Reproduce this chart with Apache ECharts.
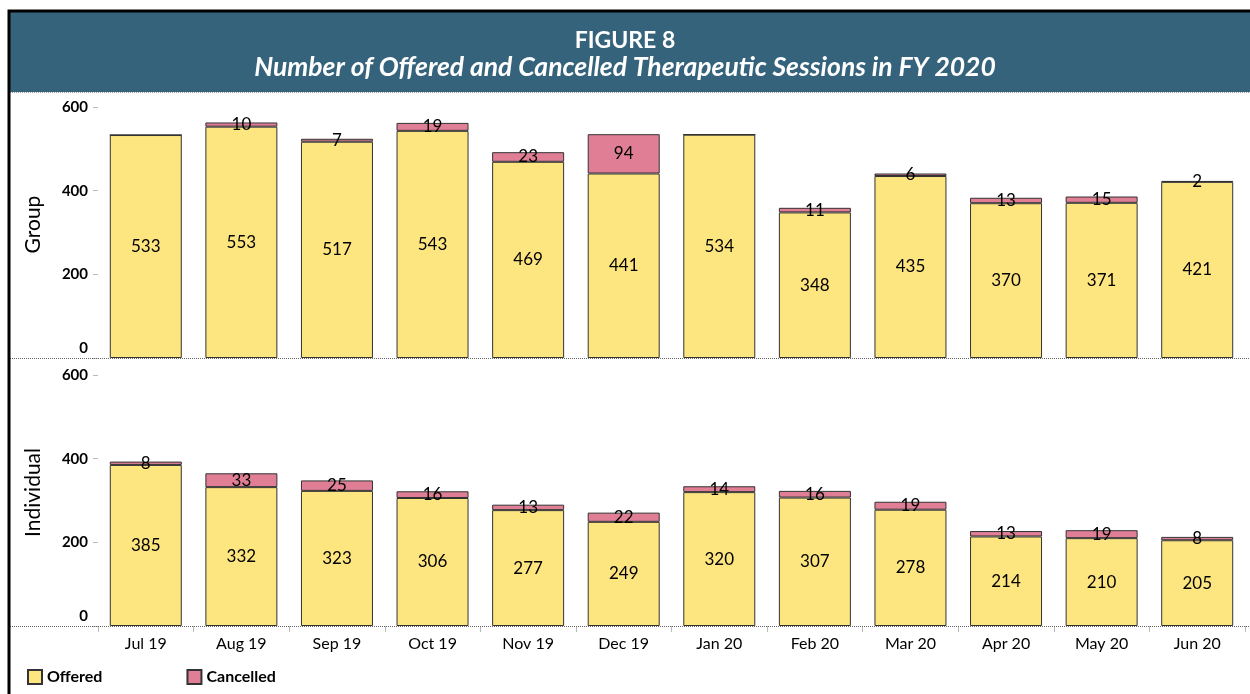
<!DOCTYPE html>
<html>
<head>
<meta charset="utf-8">
<script src="https://cdn.jsdelivr.net/npm/echarts@6/dist/echarts.min.js"></script>
<style>
    html, body { margin: 0; padding: 0; background: #fff; }
    #main { width: 1250px; height: 694px; }
</style>
</head>
<body>
<div id="main"></div>
<script>
// months
var months = ['Jul 19', 'Aug 19', 'Sep 19', 'Oct 19', 'Nov 19', 'Dec 19', 'Jan 20', 'Feb 20', 'Mar 20', 'Apr 20', 'May 20', 'Jun 20']
// group sessions
var groupOffered = [533, 553, 517, 543, 469, 441, 534, 348, 435, 370, 371, 421]
var groupCancelled = [0, 10, 7, 19, 23, 94, 0, 11, 6, 13, 15, 2]
// individual sessions
var indivOffered = [385, 332, 323, 306, 277, 249, 320, 307, 278, 214, 210, 205]
var indivCancelled = [8, 33, 25, 16, 13, 22, 14, 16, 19, 13, 19, 8]
var yTicks = [0, 200, 400, 600]

;(function () {
    var myChart = echarts.init(document.getElementById('main'))

    var font = 'Lato, "Open Sans", sans-serif'
    var yellow = '#fde580'
    var pink = '#e07e95'

    function yAxis(idx, name) {
        return {
            gridIndex: idx,
            type: 'value',
            min: yTicks[0],
            max: yTicks[yTicks.length - 1],
            interval: 200,
            name: name,
            nameLocation: 'middle',
            nameGap: 54,
            nameTextStyle: { color: '#000', fontSize: 21, fontFamily: font, padding: [0, 0, 0, 16] },
            axisLine: { show: false },
            axisTick: { show: true, length: 5, lineStyle: { color: '#bbb' } },
            splitLine: { show: false },
            axisLabel: {
                color: '#000', fontSize: 15, fontWeight: 'bold', fontFamily: font, margin: 10,
                // the 0 label sits a little above the baseline
                formatter: function (v) { return v === 0 ? '{z|0}' : v },
                rich: { z: { fontSize: 15, fontWeight: 'bold', fontFamily: font, color: '#000', padding: [0, 0, 20, 0] } }
            }
        }
    }

    function bar(name, axis, stack, data, color) {
        return {
            name: name,
            type: 'bar',
            xAxisIndex: axis,
            yAxisIndex: axis,
            stack: stack,
            barWidth: 72,
            data: data,
            itemStyle: { color: color, borderColor: '#333', borderWidth: 1 },
            label: {
                show: true,
                position: 'inside',
                color: '#000',
                fontSize: 17,
                fontFamily: font,
                formatter: function (p) { return p.value ? p.value : '' }
            }
        }
    }

    var option = {
        animation: false,
        backgroundColor: '#fff',
        title: {
            text: 'FIGURE 8',
            subtext: 'Number of Offered and Cancelled Therapeutic Sessions in FY 2020',
            left: 'center',
            top: 24,
            itemGap: 2,
            textStyle: { color: '#fff', fontSize: 23, fontWeight: 'bold', fontFamily: font },
            subtextStyle: { color: '#fff', fontSize: 26.5, fontStyle: 'italic', fontWeight: 'bold', fontFamily: font }
        },
        legend: {
            left: 22,
            top: 664,
            itemWidth: 14,
            itemHeight: 14,
            itemGap: 84,
            icon: 'rect',
            textStyle: { color: '#000', fontSize: 16, fontWeight: 'bold', fontFamily: font },
            data: ['Offered', 'Cancelled']
        },
        grid: [
            { left: 98, right: 5, top: 107, height: 251 },
            { left: 98, right: 5, top: 375, height: 251 }
        ],
        xAxis: [
            {
                gridIndex: 0, type: 'category', data: months,
                axisLine: { show: false }, axisTick: { show: false }, axisLabel: { show: false }
            },
            {
                gridIndex: 1, type: 'category', data: months,
                axisLine: { show: false },
                axisTick: { show: true, length: 6, lineStyle: { color: '#bbb' } },
                axisLabel: { color: '#000', fontSize: 16, fontFamily: font, margin: 10 }
            }
        ],
        yAxis: [yAxis(0, 'Group'), yAxis(1, 'Individual')],
        series: [
            bar('Offered', 0, 'g', groupOffered, yellow),
            bar('Cancelled', 0, 'g', groupCancelled, pink),
            bar('Offered', 1, 'i', indivOffered, yellow),
            bar('Cancelled', 1, 'i', indivCancelled, pink)
        ],
        graphic: [
            // title banner
            { type: 'rect', z: -1, shape: { x: 10, y: 12, width: 1240, height: 80 }, style: { fill: '#35637c' } },
            // frame
            { type: 'polyline', z: 10, shape: { points: [[9, 694], [9, 11], [1250, 11]] }, style: { stroke: '#000', lineWidth: 3, fill: null } },
            // dotted separators
            { type: 'line', z: 5, shape: { x1: 10, y1: 92.5, x2: 1250, y2: 92.5 }, style: { stroke: '#999', lineWidth: 1, lineDash: [1, 1] } },
            { type: 'line', z: 5, shape: { x1: 10, y1: 358.5, x2: 1250, y2: 358.5 }, style: { stroke: '#666', lineWidth: 1, lineDash: [1, 1] } },
            { type: 'line', z: 5, shape: { x1: 10, y1: 626.5, x2: 1250, y2: 626.5 }, style: { stroke: '#666', lineWidth: 1, lineDash: [1, 1] } }
        ]
    }

    myChart.setOption(option)
    window.addEventListener('resize', function () {
        myChart.resize()
    })
}());
</script>
</body>
</html>
